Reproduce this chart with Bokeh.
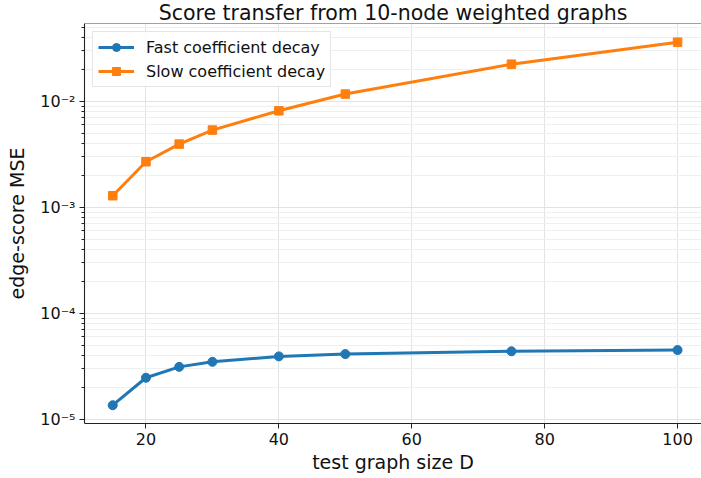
import numpy as np
from bokeh.plotting import figure
from bokeh.models import (Range1d, FixedTicker, CustomJSTickFormatter, Legend, LegendItem,
                          Span)
from bokeh.embed import file_html
from bokeh.resources import INLINE

# ---- data ----
sizes = [15, 20, 25, 30, 40, 50, 75, 100]
fast_mse = [1.36e-5, 2.47e-5, 3.13e-5, 3.49e-5, 3.93e-5, 4.13e-5, 4.39e-5, 4.51e-5]
slow_mse = [1.29e-3, 2.70e-3, 3.96e-3, 5.37e-3, 8.17e-3, 1.175e-2, 2.25e-2, 3.63e-2]
series_names = ["Fast coefficient decay", "Slow coefficient decay"]
x_ticks = [20, 40, 60, 80, 100]
y_major = [1e-5, 1e-4, 1e-3, 1e-2]
title_text = "Score transfer from 10-node weighted graphs"
x_label = "test graph size D"
y_label = "edge-score MSE"

FONT = "DejaVu Sans"
BLUE = "#1f77b4"
ORANGE = "#ff7f0e"

y_lo, y_hi = 10 ** -5.039, 10 ** -1.264
p = figure(frame_width=617, frame_height=400, output_backend="svg", toolbar_location=None,
           y_axis_type="log", x_range=Range1d(10.75, 103.6), y_range=Range1d(y_lo, y_hi),
           min_border_left=84, min_border_top=0, min_border_right=0, min_border_bottom=54,
           title=title_text)
p.title.align = "center"
p.title.text_font = FONT
p.title.text_font_size = "20.5px"
p.title.text_font_style = "normal"
p.title.text_color = "#111111"
p.title.standoff = -3
p.title.offset = 2
p.outline_line_color = None
p.background_fill_color = "white"
p.border_fill_color = "white"

# grids
p.xgrid.grid_line_color = "#e3e3e3"
p.ygrid.grid_line_color = "#e3e3e3"
p.ygrid.minor_grid_line_color = "#efefef"
p.xgrid.grid_line_width = 1
p.ygrid.grid_line_width = 1

# axes
minor = [k * 10.0 ** e for e in range(-6, 0) for k in range(2, 10)]
p.yaxis.ticker = FixedTicker(ticks=y_major, minor_ticks=minor)
p.xaxis.ticker = FixedTicker(ticks=x_ticks, minor_ticks=[])
p.yaxis.formatter = CustomJSTickFormatter(code="""
const sup = {'-':'\u207b','0':'\u2070','1':'\u00b9','2':'\u00b2','3':'\u00b3','4':'\u2074','5':'\u2075','6':'\u2076','7':'\u2077','8':'\u2078','9':'\u2079'};
const e = Math.round(Math.log10(tick));
return '10' + String(e).split('').map(c => sup[c]).join('');
""")
for ax in (p.xaxis[0], p.yaxis[0]):
    ax.axis_line_color = "#222222"
    ax.axis_line_width = 1.1
    ax.major_tick_line_color = "#222222"
    ax.minor_tick_line_color = "#222222"
    ax.major_tick_out = 5
    ax.major_tick_in = 0
    ax.minor_tick_out = 3
    ax.minor_tick_in = 0
    ax.major_label_text_font = FONT
    ax.major_label_text_font_size = "16px"
    ax.major_label_text_color = "#111111"
    ax.axis_label_text_font = FONT
    ax.axis_label_text_font_size = "19px"
    ax.axis_label_text_font_style = "normal"
    ax.axis_label_text_color = "#111111"
    ax.major_label_standoff = 4
p.xaxis.axis_label = x_label
p.yaxis.axis_label = y_label
p.xaxis.axis_label_standoff = 3
p.yaxis.axis_label_standoff = 9

# top spine
p.add_layout(Span(location=y_hi, dimension="width", line_color="#444444", line_width=1.2))

# series
r1 = p.line(sizes, fast_mse, line_color=BLUE, line_width=3)
s1 = p.scatter(sizes, fast_mse, marker="circle", size=9, fill_color=BLUE, line_color=BLUE)
r2 = p.line(sizes, slow_mse, line_color=ORANGE, line_width=3)
s2 = p.scatter(sizes, slow_mse, marker="square", size=8.5, fill_color=ORANGE, line_color=ORANGE)

legend = Legend(items=[LegendItem(label=series_names[0], renderers=[r1, s1]),
                       LegendItem(label=series_names[1], renderers=[r2, s2])],
                location="top_left", margin=8, padding=5, spacing=4,
                glyph_width=36, glyph_height=20, label_height=20, label_standoff=12,
                label_text_font=FONT, label_text_font_size="16px", label_text_color="#111111",
                border_line_color="#cccccc", border_line_width=1,
                background_fill_color="white", background_fill_alpha=0.85)
p.add_layout(legend)

open("out.html", "w").write(file_html(p, INLINE))
